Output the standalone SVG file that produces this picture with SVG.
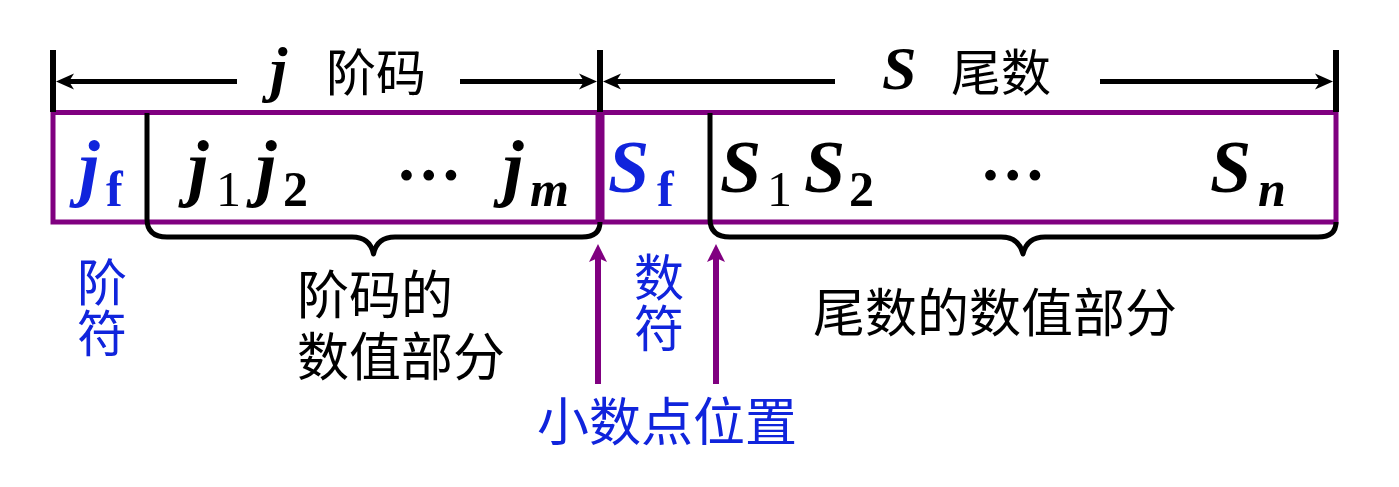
<svg xmlns="http://www.w3.org/2000/svg" width="1399" height="487" viewBox="0 0 1399 487">
  <style>
    .tick { stroke: #000; stroke-width: 6; fill: none; }
    .dim { stroke: #000; stroke-width: 5; fill: none; }
    .brace { stroke: #000; stroke-width: 5; fill: none; stroke-linejoin: round; }
    .box { stroke: #800080; stroke-width: 5; fill: #fff; }
    .pup { stroke: #800080; stroke-width: 6; fill: none; }
    .var { font-family: "Liberation Serif", "Times New Roman", serif; font-style: italic; font-weight: bold; font-size: 74px; fill: #000; }
    .sub { font-family: "Liberation Serif", "Times New Roman", serif; font-size: 50px; fill: #000; }
    .subi { font-family: "Liberation Serif", "Times New Roman", serif; font-style: italic; font-weight: bold; font-size: 50px; fill: #000; }
    .cn { font-family: "Noto Sans CJK SC", "Noto Sans CJK JP", sans-serif; font-size: 52px; fill: #000; }
    .top { font-family: "Liberation Serif", "Times New Roman", serif; font-style: italic; font-weight: bold; font-size: 62px; fill: #000; }
    .blue { fill: #1024DC; }
  </style>
  <defs>
    <marker id="dimArrow" markerUnits="userSpaceOnUse" markerWidth="20" markerHeight="20" viewBox="0 -10 20 20" refX="5" refY="0" orient="auto">
      <path d="M18,0 L0,-8 L5,0 L0,8 Z" fill="#000"/>
    </marker>
    <marker id="upArrow" markerUnits="userSpaceOnUse" markerWidth="22" markerHeight="22" viewBox="0 -11 22 22" refX="4" refY="0" orient="auto">
      <path d="M18,0 L0,-9 L4,0 L0,9 Z" fill="#800080"/>
    </marker>
  </defs>

  <g id="register">
    <rect class="box" x="53" y="112.5" width="1283" height="109.5"/>
    <line x1="600" y1="111" x2="600" y2="224" stroke="#800080" stroke-width="9"/>
  </g>

  <g id="connectors">
    <line class="tick" x1="53" y1="50" x2="53" y2="112"/>
    <line class="tick" x1="600" y1="50" x2="600" y2="112"/>
    <line class="tick" x1="1336" y1="50" x2="1336" y2="112"/>
    <line class="dim" x1="237" y1="81.5" x2="69" y2="81.5" marker-end="url(#dimArrow)"/>
    <line class="dim" x1="460" y1="81.5" x2="584" y2="81.5" marker-end="url(#dimArrow)"/>
    <line class="dim" x1="835" y1="81.5" x2="616" y2="81.5" marker-end="url(#dimArrow)"/>
    <line class="dim" x1="1100" y1="81.5" x2="1320" y2="81.5" marker-end="url(#dimArrow)"/>
    <path class="brace" d="M147,113 V219 Q147,237 167,237 H352 Q370,237 373.5,254 Q377,237 395,237 H582 Q600,237 600,222"/>
    <path class="brace" d="M710,113 V219 Q710,237 730,237 H1001 Q1019,237 1023,254 Q1027,237 1045,237 H1318 Q1336,237 1336,222"/>
    <line class="pup" x1="598" y1="384" x2="598" y2="258" marker-end="url(#upArrow)"/>
    <line class="pup" x1="716" y1="384" x2="716" y2="258" marker-end="url(#upArrow)"/>
  </g>

  <g id="label-j">
    <text class="top" x="270" y="90">j</text>
    <text class="cn" x="326" y="91" style="font-size:50px">阶码</text>
  </g>
  <g id="label-S">
    <text class="top" x="882" y="89">S</text>
    <text class="cn" x="951" y="91" style="font-size:50px">尾数</text>
  </g>

  <g id="cell-jf">
    <text class="var blue" x="79" y="192">j</text>
    <text class="sub blue" x="106" y="206" style="font-weight:bold">f</text>
  </g>
  <g id="cell-j">
    <text class="var" x="188" y="192">j</text>
    <text class="sub" x="216" y="206">1</text>
    <text class="var" x="256" y="192">j</text>
    <text class="sub" x="283" y="206" style="font-weight:bold">2</text>
    <text class="var" x="398" y="180" style="font-size:66px">…</text>
    <text class="var" x="503" y="192">j</text>
    <text class="subi" x="530" y="206">m</text>
  </g>
  <g id="cell-Sf">
    <text class="var blue" x="608" y="192">S</text>
    <text class="sub blue" x="657" y="206" style="font-weight:bold">f</text>
  </g>
  <g id="cell-S">
    <text class="var" x="720" y="192">S</text>
    <text class="sub" x="767" y="206">1</text>
    <text class="var" x="804" y="192">S</text>
    <text class="sub" x="849" y="206" style="font-weight:bold">2</text>
    <text class="var" x="982" y="180" style="font-size:66px">…</text>
    <text class="var" x="1210" y="192">S</text>
    <text class="subi" x="1258" y="206">n</text>
  </g>

  <g id="label-jiefu">
    <text class="cn blue" text-anchor="middle" style="font-size:50px"><tspan x="102" y="301">阶</tspan><tspan x="102" y="352">符</tspan></text>
  </g>
  <g id="label-jiema-value">
    <text class="cn"><tspan x="297" y="314">阶码的</tspan><tspan x="297" y="376">数值部分</tspan></text>
  </g>
  <g id="label-shufu">
    <text class="cn blue" text-anchor="middle" style="font-size:50px"><tspan x="659" y="296">数</tspan><tspan x="659" y="347">符</tspan></text>
  </g>
  <g id="label-weishu-value">
    <text class="cn" x="813" y="332">尾数的数值部分</text>
  </g>
  <g id="label-point">
    <text class="cn blue" x="537" y="441">小数点位置</text>
  </g>
</svg>
